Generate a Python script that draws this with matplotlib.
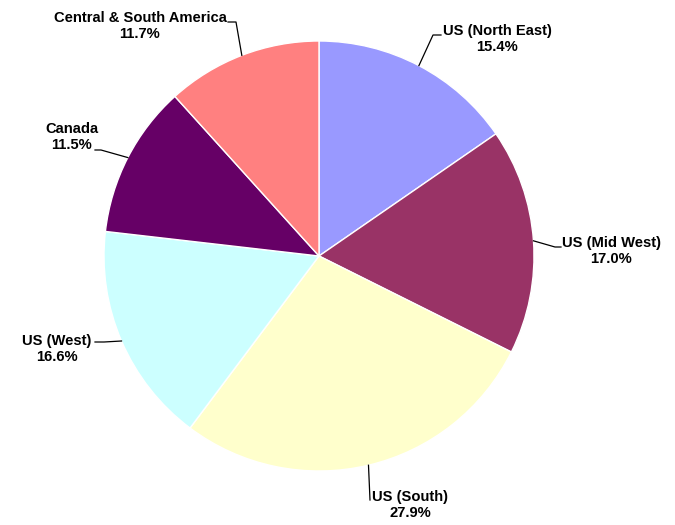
import matplotlib
matplotlib.use("Agg")
import matplotlib.pyplot as plt
import numpy as np

# ---- data ----
regions = ["US (North East)", "US (Mid West)", "US (South)", "US (West)",
           "Canada", "Central & South America"]
shares = [15.4, 17.0, 27.9, 16.6, 11.5, 11.7]
colors = ["#9999FF", "#993366", "#FFFFCC", "#CCFFFF", "#660066", "#FF8080"]

# ---- layout (pixel coords, y measured from top) ----
W, H = 675, 525
center_px = (319, 256)
radius_px = 215
# text block centre and elbow point for each leader line
text_pos = [(497, 39), (611, 251), (410, 505), (57, 349), (72, 137), (140, 26)]
elbow_pts = [[(433, 35), (441, 35)],
             [(555, 247), (561, 247)],
             [(370, 500)],
             [(104, 342), (95, 342)],
             [(101, 150), (95, 150)],
             [(236, 22), (228, 22)]]

plt.rcParams['font.family'] = ['Liberation Sans', 'DejaVu Sans']

fig = plt.figure(figsize=(W / 100, H / 100), dpi=100)
ax = fig.add_axes([0, 0, 1, 1])
ax.set_xlim(0, W)
ax.set_ylim(0, H)
ax.set_aspect('equal')
ax.axis('off')

cx, cy = center_px[0], H - center_px[1]
wedges, _ = ax.pie(shares, colors=colors, startangle=90, counterclock=False,
                   radius=radius_px, center=(cx, cy),
                   wedgeprops=dict(edgecolor='white', linewidth=1.0))
ax.set_xlim(0, W)
ax.set_ylim(0, H)

for w, name, val, tp, elb in zip(wedges, regions, shares, text_pos, elbow_pts):
    ang = np.deg2rad((w.theta1 + w.theta2) / 2)
    ex = cx + radius_px * np.cos(ang)
    ey = cy + radius_px * np.sin(ang)
    xs = [ex] + [p[0] for p in elb]
    ys = [ey] + [H - p[1] for p in elb]
    ax.plot(xs, ys, color='black', lw=0.9)
    ax.text(tp[0], H - tp[1], f"{name}\n{val:.1f}%", ha='center', va='center',
            fontsize=10.6, fontweight='bold', linespacing=1.2, color='black')

fig.savefig("out.png", dpi=100)
